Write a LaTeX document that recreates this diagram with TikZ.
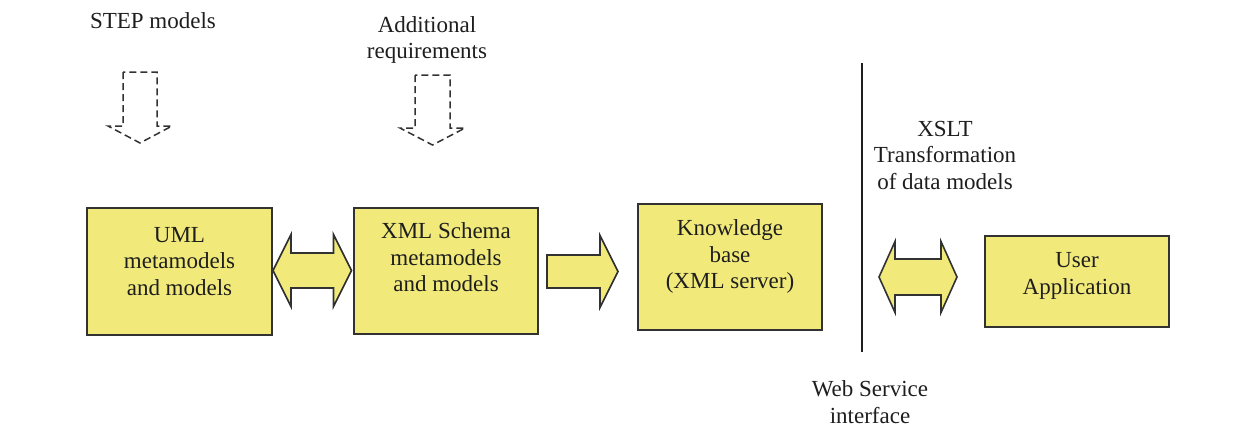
\documentclass[tikz,border=0pt]{standalone}
\usepackage{fontspec}
\setmainfont{Liberation Serif}
\usetikzlibrary{calc}
\definecolor{boxfill}{RGB}{241,234,122}
\definecolor{edgecol}{RGB}{50,50,50}
\definecolor{ink}{RGB}{30,30,30}
\newcommand\padbelow[1]{\rule[-#1]{0pt}{#1}}
% double block arrow: #1 left tip, #2 right tip, #3 shaft half, #4 head half, #5 head length
\newcommand\dblblockarrow[5]{%
  \draw[blockarrow] let \p1=(#1), \p2=(#2) in
    (\x1,\y1) -- ({\x1+#5},{\y1+#4}) -- ({\x1+#5},{\y1+#3}) -- ({\x2-#5},{\y1+#3})
    -- ({\x2-#5},{\y1+#4}) -- (\x2,\y1) -- ({\x2-#5},{\y1-#4}) -- ({\x2-#5},{\y1-#3})
    -- ({\x1+#5},{\y1-#3}) -- ({\x1+#5},{\y1-#4}) -- cycle;}
% single block arrow: #1 tail centre, #2 tip
\newcommand\sglblockarrow[5]{%
  \draw[blockarrow] let \p1=(#1), \p2=(#2) in
    (\x1,{\y1+#3}) -- ({\x2-#5},{\y1+#3}) -- ({\x2-#5},{\y1+#4}) -- (\x2,\y1)
    -- ({\x2-#5},{\y1-#4}) -- ({\x2-#5},{\y1-#3}) -- (\x1,{\y1-#3}) -- cycle;}
% downward outlined arrow: #1 top centre, #2 tip
\newcommand\downblockarrow[5]{%
  \draw[dasharrow] let \p1=(#1), \p2=(#2) in
    ({\x1-#3},\y1) -- ({\x1-#3},{\y2+#5}) -- ({\x1-#4},{\y2+#5}) -- (\x1,\y2)
    -- ({\x1+#4},{\y2+#5}) -- ({\x1+#3},{\y2+#5}) -- ({\x1+#3},\y1) -- cycle;}
\begin{document}
\begin{tikzpicture}[x=1pt,y=-1pt,
  txt/.style={font=\fontsize{23}{26.5}\selectfont, text=ink, inner sep=0pt},
  box/.style={txt, draw=edgecol, line width=1.6pt, fill=boxfill, align=center},
  blockarrow/.style={draw=edgecol, line width=1.6pt, fill=boxfill, line join=miter},
  dasharrow/.style={draw=edgecol, line width=1.5pt, dash pattern=on 7pt off 4pt}]
\useasboundingbox (0,0) rectangle (1257,426);

% boxes
\node[box, minimum width=185pt, minimum height=127pt] (uml) at (179.5,271.5)
  {UML\\metamodels\\and models\padbelow{21pt}};
\node[box, minimum width=184pt, minimum height=126pt] (xml) at (446,271)
  {XML Schema\\metamodels\\and models\padbelow{27pt}};
\node[box, minimum width=184pt, minimum height=126pt] (kb) at (730,267)
  {Knowledge\\base\\(XML server)\padbelow{25pt}};
\node[box, minimum width=184pt, minimum height=91pt] (user) at (1077,281.5)
  {User\\Application\padbelow{16pt}};

% free labels
\node[txt, anchor=base] (step) at (153,28) {STEP models};
\node[txt, align=center] (addreq) at (427,40) {Additional\\requirements};
\node[txt, align=center] (xslt) at (945,155) {XSLT\\Transformation\\of data models};
\node[txt, align=center] (ws) at (870,402) {Web Service\\interface};

% separator line
\coordinate (sepTop) at (862,63);
\coordinate (sepBot) at (862,352);
\draw[line width=1.4pt, ink] (sepTop) -- (sepBot);

% block arrows between boxes
\coordinate (a1l) at (273,270.5);
\coordinate (a1r) at (351.5,270.5);
\dblblockarrow{a1l}{a1r}{17.5pt}{36pt}{18pt}
\coordinate (a2t) at (547,271.5);
\coordinate (a2h) at (618,271.5);
\sglblockarrow{a2t}{a2h}{16.5pt}{36pt}{18pt}
\coordinate (a3l) at (879,277);
\coordinate (a3r) at (957,277);
\dblblockarrow{a3l}{a3r}{18pt}{35.5pt}{16pt}

% dashed input arrows
\coordinate (stepTop) at (140,72);
\coordinate (stepTip) at (140,143);
\downblockarrow{stepTop}{stepTip}{17pt}{32pt}{17pt}
\coordinate (reqTop) at (432.5,75);
\coordinate (reqTip) at (432.5,145);
\downblockarrow{reqTop}{reqTip}{17.5pt}{32.5pt}{17pt}
\end{tikzpicture}
\end{document}
